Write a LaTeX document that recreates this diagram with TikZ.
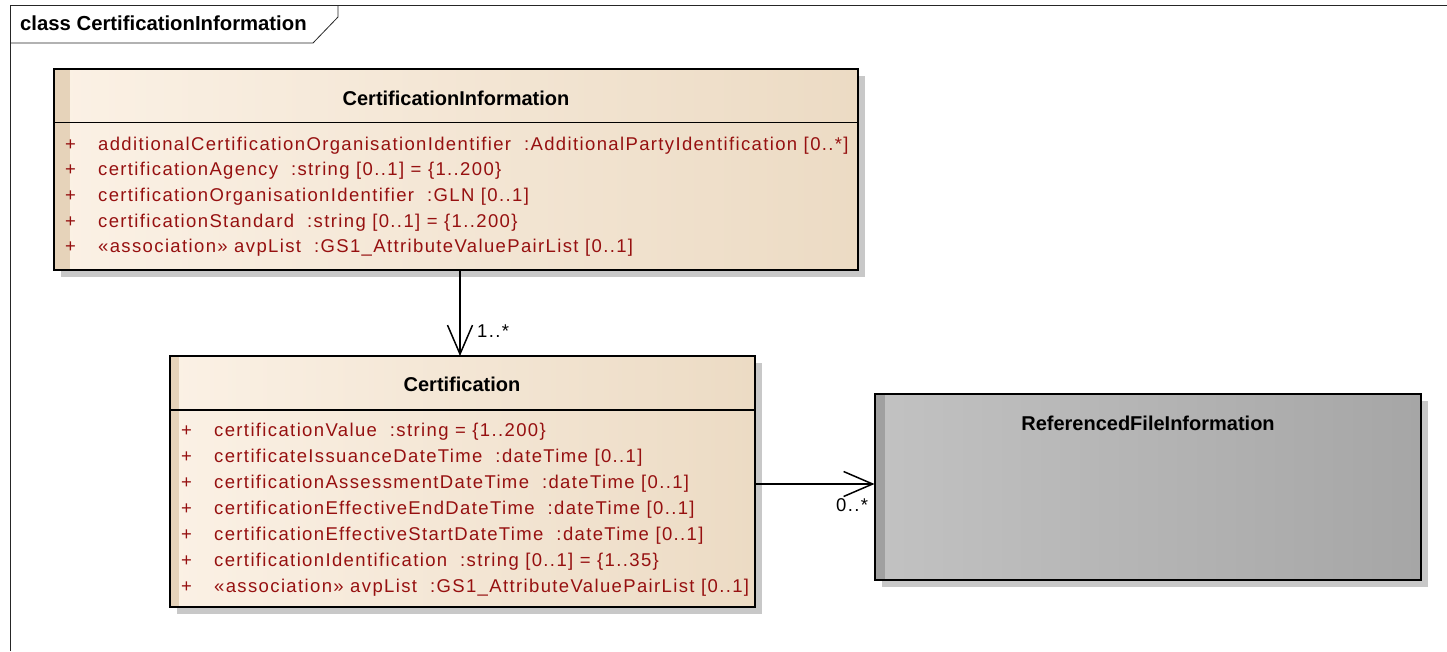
\documentclass[tikz,border=0pt]{standalone}
\usepackage{fontspec}
\setmainfont{Liberation Sans}
\newfontfamily\attrfont[LetterSpace=7.4]{Liberation Sans}
\usetikzlibrary{arrows.meta,shadows}
\definecolor{attrred}{RGB}{150,16,16}
\definecolor{tanL}{RGB}{251,241,229}
\definecolor{tanR}{RGB}{236,219,196}
\definecolor{tanStripe}{RGB}{230,211,186}
\definecolor{greyL}{RGB}{194,194,194}
\definecolor{greyR}{RGB}{166,166,166}
\definecolor{greyStripe}{RGB}{160,160,160}
\definecolor{shadowgrey}{RGB}{200,200,200}
\tikzset{
  boxbase/.style={draw=black, line width=2pt, inner sep=0pt, outer sep=0pt, anchor=north west,
    drop shadow={shadow xshift=7pt, shadow yshift=-7pt, fill=shadowgrey, opacity=1}},
  tanbox/.style={boxbase, left color=tanL, right color=tanR},
  greybox/.style={boxbase, left color=greyL, right color=greyR},
  stripe/.style 2 args={path picture={\fill[#1] (path picture bounding box.north west) rectangle ([xshift=#2]path picture bounding box.south west);}},
  ctitle/.style={font=\bfseries\fontsize{20}{24}\selectfont, inner sep=0pt, anchor=base},
  attr/.style={font=\attrfont\fontsize{18.5}{22}\selectfont, text=attrred, inner sep=0pt, anchor=base west},
  mult/.style={font=\attrfont\fontsize{18.5}{22}\selectfont, text=black, inner sep=0pt, anchor=base west},
  divider/.style={line width=1.5pt},
  assoc/.style={line width=1.5pt, -{Straight Barb[length=29pt, width=25pt, line width=1.5pt]}},
  frameline/.style={line width=0.8pt, draw=black!85}
}
\begin{document}
\begin{tikzpicture}[x=1pt,y=-1pt]
\useasboundingbox (0,0) rectangle (1447,651);
% frame
\coordinate (fbl) at (10,651);
\coordinate (ftl) at (10,5);
\coordinate (ftr) at (1447,5);
\coordinate (tab1) at (10,43);
\coordinate (tab2) at (313,43);
\coordinate (tab3) at (338,17);
\coordinate (tab4) at (338,5);
\draw[frameline] (fbl) -- (ftl) -- (ftr);
\draw[frameline] (tab1) -- (tab2) -- (tab3) -- (tab4);
\node[font=\bfseries\fontsize{20.3}{24}\selectfont, inner sep=0pt, anchor=base west] (frametitle) at (20,30) {class CertificationInformation};

% CertificationInformation
\node[tanbox, stripe={tanStripe}{16pt}, minimum width=804pt, minimum height=201pt] (ci) at (54,69) {};
\coordinate (cidiv) at (0,122.7);
\draw[divider] (ci.west |- cidiv) -- (ci.east |- cidiv);
\node[ctitle] (citl) at (456,105.7) {CertificationInformation};
\node[attr] (cip1) at (65,150) {+};
\node[attr] (cia1) at (98,150) {additionalCertificationOrganisationIdentifier\ \ :AdditionalPartyIdentification [0..*]};
\node[attr] (cip2) at (65,175.5) {+};
\node[attr] (cia2) at (98,175.5) {certificationAgency\ \ :string [0..1] = \{1..200\}};
\node[attr] (cip3) at (65,201) {+};
\node[attr] (cia3) at (98,201) {certificationOrganisationIdentifier\ \ :GLN [0..1]};
\node[attr] (cip4) at (65,227) {+};
\node[attr] (cia4) at (98,227) {certificationStandard\ \ :string [0..1] = \{1..200\}};
\node[attr] (cip5) at (65,252.7) {+};
\node[attr] (cia5) at (98,252.7) {«association» avpList\ \ :GS1\_AttributeValuePairList [0..1]};

% Certification
\node[tanbox, stripe={tanStripe}{9pt}, minimum width=585pt, minimum height=251pt] (ce) at (169.5,356) {};
\coordinate (cediv) at (0,410);
\draw[divider] (ce.west |- cediv) -- (ce.east |- cediv);
\node[ctitle] (cetl) at (462,391.7) {Certification};
\node[attr] (cep1) at (181,436.7) {+};
\node[attr] (cea1) at (214,436.7) {certificationValue\ \ :string = \{1..200\}};
\node[attr] (cep2) at (181,462.7) {+};
\node[attr] (cea2) at (214,462.7) {certificateIssuanceDateTime\ \ :dateTime [0..1]};
\node[attr] (cep3) at (181,488.3) {+};
\node[attr] (cea3) at (214,488.3) {certificationAssessmentDateTime\ \ :dateTime [0..1]};
\node[attr] (cep4) at (181,514.3) {+};
\node[attr] (cea4) at (214,514.3) {certificationEffectiveEndDateTime\ \ :dateTime [0..1]};
\node[attr] (cep5) at (181,540) {+};
\node[attr] (cea5) at (214,540) {certificationEffectiveStartDateTime\ \ :dateTime [0..1]};
\node[attr] (cep6) at (181,566.7) {+};
\node[attr] (cea6) at (214,566.7) {certificationIdentification\ \ :string [0..1] = \{1..35\}};
\node[attr] (cep7) at (181,592.3) {+};
\node[attr] (cea7) at (214,592.3) {«association» avpList\ \ :GS1\_AttributeValuePairList [0..1]};

% ReferencedFileInformation
\node[greybox, stripe={greyStripe}{10pt}, minimum width=546pt, minimum height=186pt] (rf) at (874.5,394) {};
\node[ctitle] (rftl) at (1148,430.5) {ReferencedFileInformation};

% associations
\coordinate (a1x) at (460,0);
\draw[assoc] (ci.south -| a1x) -- (ce.north -| a1x);
\node[mult] (m1) at (477,337) {1..*};
\coordinate (a2y) at (0,484);
\draw[assoc] (ce.east |- a2y) -- (rf.west |- a2y);
\node[mult] (m2) at (836,511.5) {0..*};
\end{tikzpicture}
\end{document}
